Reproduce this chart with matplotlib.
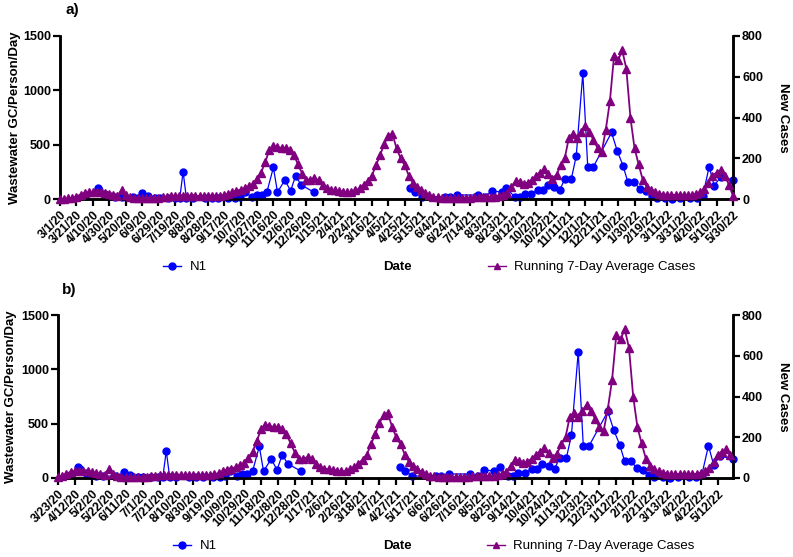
import matplotlib
matplotlib.use('Agg')
import matplotlib.pyplot as plt
import numpy as np
import pandas as pd
from matplotlib.lines import Line2D

plt.rcParams['font.family'] = ['Liberation Sans', 'DejaVu Sans']

# ---------------- data ----------------
series_start = '2020-03-01'
case_step_days = 5
# Running 7-day average of new cases, one value every 5 days from 3/1/20
cases = [0, 1, 3, 6, 12, 22, 30, 34, 35, 36,
         34, 30, 24, 18, 16, 42, 22, 10, 6, 5,
         5, 5, 5, 5, 6, 8, 10, 14, 16, 16,
         17, 17, 16, 15, 15, 14, 14, 13, 13, 15,
         18, 24, 32, 40, 46, 54, 62, 75, 100, 130,
         180, 240, 262, 255, 250, 248, 240, 215, 170, 125,
         95, 95, 102, 92, 70, 55, 46, 42, 38, 34,
         32, 35, 42, 52, 70, 90, 115, 165, 215, 270,
         310, 318, 250, 200, 165, 115, 80, 60, 42, 30,
         20, 12, 8, 6, 5, 4, 4, 5, 5, 6,
         7, 8, 10, 12, 10, 10, 12, 15, 18, 30,
         60, 88, 85, 75, 80, 95, 115, 130, 145, 125,
         100, 120, 165, 200, 300, 320, 300, 330, 360, 330,
         290, 250, 230, 340, 480, 700, 680, 730, 640, 400,
         250, 170, 95, 60, 42, 32, 26, 22, 20, 20,
         20, 20, 20, 18, 20, 25, 32, 50, 80, 115,
         130, 140, 115, 70, 15]
# panel b shows the case curve lagged by a week
case_lag_days_b = 7

# N1 wastewater samples: day offset from 3/1/20 and GC/person/day (None = gap)
n1_day = [46, 48, 55, 61, 67, 75, 89, 95, 100, 107, 116, 122, 132, 140, 146, 150,
          154, 162, 177, 185, 193, 205, 213, 219, 225, 234, 240, 246, 252, 260,
          265, 274, 281, 287, 294, 309, 360,
          426, 432, 441, 469, 475, 484, 509, 518, 526, 538, 544, 554, 560, 566,
          574, 582, 588, 594, 602, 609, 615, 623, 629, 637, 643, 650, 672, 679,
          686, 692, 699, 707, 714, 721, 727, 737, 746, 755, 768, 776, 783, 791,
          797, 805, 820]
n1_val = [105, 85, 46, 28, 18, 18, 18, 8, 55, 28, 8, 8, 12, 10, 12, 250,
          8, 8, 5, 5, 8, 5, 10, 20, 62, 18, 35, 35, 62, 290,
          62, 175, 75, 212, 129, 64, None,
          101, 64, 18, 18, 18, 37, 37, 18, 74, 64, 101, 18, 15, 50,
          46, 83, 83, 129, 110, 83, 184, 184, 396, 1157, 298, 298, 612, 442,
          307, 152, 152, 92, 70, 24, 9, 5, 3, 5, 5, 9, 24, 298,
          124, 200, 177]

ticks_a = ['3/1/20', '3/21/20', '4/10/20', '4/30/20', '5/20/20', '6/9/20', '6/29/20',
           '7/19/20', '8/8/20', '8/28/20', '9/17/20', '10/7/20', '10/27/20', '11/16/20',
           '12/6/20', '12/26/20', '1/15/21', '2/4/21', '2/24/21', '3/16/21', '4/5/21',
           '4/25/21', '5/15/21', '6/4/21', '6/24/21', '7/14/21', '8/3/21', '8/23/21',
           '9/12/21', '10/2/21', '10/22/21', '11/11/21', '12/1/21', '12/21/21',
           '1/10/22', '1/30/22', '2/19/22', '3/11/22', '3/31/22', '4/20/22',
           '5/10/22', '5/30/22']
ticks_b = ['3/23/20', '4/12/20', '5/2/20', '5/22/20', '6/11/20', '7/1/20', '7/21/20',
           '8/10/20', '8/30/20', '9/19/20', '10/9/20', '10/29/20', '11/18/20', '12/8/20',
           '12/28/20', '1/17/21', '2/6/21', '2/26/21', '3/18/21', '4/7/21', '4/27/21',
           '5/17/21', '6/6/21', '6/26/21', '7/16/21', '8/5/21', '8/25/21', '9/14/21',
           '10/4/21', '10/24/21', '11/13/21', '12/3/21', '12/23/21', '1/12/22',
           '2/1/22', '2/21/22', '3/13/22', '4/2/22', '4/22/22', '5/12/22']
xlim_a = ('3/1/20', '5/30/22')
xlim_b = ('3/23/20', '5/30/22')

left_ticks = [0, 500, 1000, 1500]
right_ticks = [0, 200, 400, 600, 800]

BLUE = '#0000ff'
PURPLE = '#800080'

# ---------------- figure ----------------
fig = plt.figure(figsize=(7.93, 5.57), dpi=100)
W, H = 793, 557

start = pd.Timestamp(series_start)
case_dates = start + pd.to_timedelta(np.arange(len(cases)) * case_step_days, unit='D')
cases_arr = np.array(cases, dtype=float)
n1_dates = start + pd.to_timedelta(np.array(n1_day), unit='D')
n1_arr = np.array([np.nan if v is None else v for v in n1_val], dtype=float)


def todate(s):
    return pd.to_datetime(s, format='%m/%d/%y')


def panel(rect, ticks, xlim, lag, label, label_xy, ylab_x, date_y, leg1_x, leg2_x, leg_y):
    l, b, r, t = rect
    ax = fig.add_axes([l / W, 1 - b / H, (r - l) / W, (b - t) / H])
    ax2 = ax.twinx()
    x0, x1 = todate(xlim[0]), todate(xlim[1])

    cd = case_dates + pd.Timedelta(days=lag)
    m = (cd >= x0) & (cd <= x1)
    ax.plot(n1_dates, n1_arr, color=BLUE, marker='o', ms=5, lw=0.9, clip_on=False, zorder=3)
    ax2.plot(cd[m], cases_arr[m], color=PURPLE, marker='^', ms=5.8, lw=1.3,
             clip_on=False, zorder=3)

    for a in (ax, ax2):
        a.set_xlim(x0, x1)
        a.spines['top'].set_visible(False)
        for s in ('left', 'right', 'bottom'):
            a.spines[s].set_linewidth(1.8)
        a.tick_params(width=1.6, length=5, labelsize=9, pad=1.5)
    ax.set_ylim(0, 1500)
    ax2.set_ylim(0, 800)
    ax.set_yticks(left_ticks)
    ax2.set_yticks(right_ticks)
    for tl in ax.get_yticklabels() + ax2.get_yticklabels():
        tl.set_fontweight('bold')

    tpos = [todate(s) for s in ticks]
    ax.set_xticks(tpos)
    ax.set_xticklabels(ticks, rotation=45, ha='right', rotation_mode='anchor',
                       fontsize=8.7, fontweight='bold')
    ax.tick_params(axis='x', pad=2)

    cy = (t + b) / 2
    fig.text(ylab_x / W, 1 - cy / H, 'Wastewater GC/Person/Day', rotation=90,
             ha='center', va='center', fontsize=9.5, fontweight='bold')
    fig.text(783 / W, 1 - cy / H, 'New Cases', rotation=270,
             ha='center', va='center', fontsize=9.5, fontweight='bold')
    fig.text(label_xy[0] / W, 1 - label_xy[1] / H, label, ha='left', va='center',
             fontsize=11, fontweight='bold')
    fig.text(397 / W, 1 - date_y / H, 'Date', ha='center', va='center',
             fontsize=9.5, fontweight='bold')

    h1 = Line2D([], [], color=BLUE, marker='o', ms=5, lw=1.0)
    h2 = Line2D([], [], color=PURPLE, marker='^', ms=4.5, lw=1.0)
    fig.legend([h1], ['N1'], loc='center left', bbox_to_anchor=(leg1_x / W, 1 - leg_y / H),
               frameon=False, fontsize=9.5, handlelength=1.4, handletextpad=0.6,
               borderpad=0, borderaxespad=0)
    fig.legend([h2], ['Running 7-Day Average Cases'], loc='center left',
               bbox_to_anchor=(leg2_x / W, 1 - leg_y / H),
               frameon=False, fontsize=9.5, handlelength=1.4, handletextpad=0.6,
               borderpad=0, borderaxespad=0)


panel((60, 199, 733, 36), ticks_a, xlim_a, 0, 'a)', (65, 10), 15, 267, 163, 488, 267)
panel((58, 478, 733, 315), ticks_b, xlim_b, case_lag_days_b, 'b)', (62, 290), 11, 546, 173, 487, 546)

fig.savefig('out.png', dpi=100)
